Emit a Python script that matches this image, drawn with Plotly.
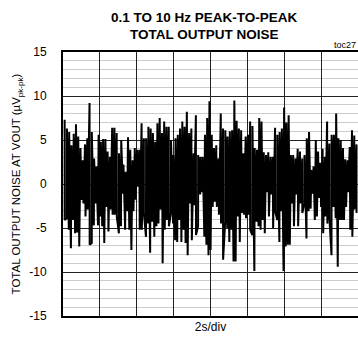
import numpy as np
import plotly.graph_objects as go

# ---------------------------------------------------------------------------
# Data (uV): upper spikes and lower spikes, in time order
# ---------------------------------------------------------------------------

NOISE_HI = [
    7.3, 6.3, 5.9, 4.4, 5.7, 6.8, 5.4, 4.1, 2.7, 4.5, 5.2, 9.2, 5.9, 2.9, 2.0, 5.6,
    4.8, 5.1, 5.1, 3.7, 3.1, 6.4, 6.4, 5.8, 3.5, 5.0, 2.2, 1.4, 5.3, 3.9, 2.7, 4.1,
    3.9, 3.9, 6.9, 5.2, 5.2, 6.5, 6.3, 5.8, 4.8, 6.9, 7.5, 5.8, 7.1, 6.5, 6.5, 5.0,
    3.3, 5.2, 5.6, 6.3, 7.1, 6.5, 8.2, 5.8, 6.3, 3.5, 7.8, 3.3, 3.1, 3.1, 5.6, 7.5,
    9.4, 5.6, 4.1, 4.4, 2.9, 8.0, 6.3, 6.1, 5.4, 6.0, 6.1, 9.5, 7.2, 6.3, 6.1, 3.5,
    5.4, 5.6, 7.1, 6.6, 4.1, 3.9, 7.5, 7.1, 3.6, 3.3, 3.6, 3.1, 3.1, 6.4, 5.6, 5.9,
    6.3, 8.7, 7.0, 7.8, 3.3, 3.3, 2.9, 4.0, 3.7, 2.9, 3.3, 5.2, 5.9, 1.6, 2.0, 5.0,
    3.7, 2.4, 4.0, 3.1, 7.1, 4.6, 5.6, 5.6, 8.0, 5.2, 5.0, 4.1, 2.8, 2.7, 4.2, 6.1,
    5.5, 4.5,
]

NOISE_LO = [
    -4.1, -3.9, -5.2, -7.3, -4.1, -5.6, -5.5, -7.1, -1.8, -2.2, -3.7, -2.9, -6.9, -6.7,
    -4.7, -2.2, -4.7, -3.7, -4.8, -6.7, -2.6, -5.4, -2.9, -3.5, -3.5, -3.7, -5.6, -4.8,
    -1.1, -5.2, -3.1, -5.2, -7.5, -3.1, -1.8, -0.3, -5.2, -5.2, -3.3, -6.0, -4.5, -7.8,
    -4.3, -6.0, -4.8, -4.5, -2.9, -9.0, -5.2, -4.1, -4.8, -3.3, -4.5, -6.4, -6.6, -4.1,
    -6.6, -5.2, -6.7, -8.1, -2.2, -6.4, -2.4, -5.8, -4.8, -1.2, -0.9, -6.0, -6.9, -8.1,
    -7.5, -2.6, -2.0, -2.6, -3.5, -4.5, -8.6, -4.3, -5.0, -6.6, -5.2, -8.8, -8.8, -3.7,
    -6.6, -3.3, -3.5, -3.9, -3.5, -5.2, -5.8, -9.9, -4.3, -4.8, -5.2, -4.1, -5.6, -0.9,
    -3.7, -1.2, -5.0, -3.1, -4.1, -6.6, -3.1, -9.9, -7.1, -6.9, -6.9, -2.2, -4.8, -1.2,
    -4.8, -2.2, -3.3, -2.2, -6.2, -3.1, -2.8, -1.1, -4.1, -3.7, -1.6, -2.6, -5.6, -3.7,
    -4.5, -3.9, -8.1, -2.6, -3.9, -9.4, -4.1, -4.1, -4.1, -2.6, -0.9, -5.2, -6.0, -2.9,
    -3.3,
]

T_START = 0.09   # s, first sample
T_END = 15.87    # s, last sample visible
Y_TICKS = [-15, -10, -5, 0, 5, 10, 15]

FONT = "Liberation Sans Narrow, Arial Narrow, Liberation Sans, Arial, sans-serif"

# merge the two spike lists into one time-ordered trace
t_hi = np.linspace(T_START, T_END, len(NOISE_HI))
t_lo = np.linspace(T_START, T_END, len(NOISE_LO))
t_all = np.concatenate([t_hi, t_lo])
v_all = np.concatenate([NOISE_HI, NOISE_LO])
order = np.argsort(t_all, kind="stable")

fig = go.Figure(go.Scatter(
    x=t_all[order],
    y=v_all[order],
    mode="lines",
    line=dict(color="black", width=2),
    hoverinfo="skip",
))

fig.update_layout(
    width=358,
    height=343,
    margin=dict(l=63, r=0, t=52, b=27),
    paper_bgcolor="white",
    plot_bgcolor="white",
    showlegend=False,
    font=dict(family=FONT, color="black", size=12),
    xaxis=dict(
        range=[0, 15.95],
        dtick=2,
        showticklabels=False,
        ticks="",
        showgrid=True,
        gridcolor="#222",
        gridwidth=1.3,
        zeroline=False,
        showline=True,
        linecolor="black",
        linewidth=2,
        mirror=True,
        automargin=False,
        title=dict(text="2s/div", font=dict(family=FONT, size=12), standoff=6),
    ),
    yaxis=dict(
        range=[-15, 15],
        tickvals=Y_TICKS,
        ticktext=[str(v) for v in Y_TICKS],
        ticks="",
        ticklabelstandoff=12,
        tickfont=dict(family=FONT, size=12),
        showgrid=True,
        gridcolor="#222",
        gridwidth=1.3,
        minor=dict(dtick=1, showgrid=True, gridcolor="#cccccc", gridwidth=1.2),
        zeroline=False,
        showline=True,
        linecolor="black",
        linewidth=2,
        mirror=True,
        automargin=False,
        title=dict(
            text="TOTAL OUTPUT NOISE AT VOUT (µV<sub>pk-pk</sub>)",
            font=dict(family=FONT, size=11.5),
            standoff=6,
        ),
    ),
)

# two-line bold title, placed as annotations so both lines stay inside the page
for line_text, y_px in [("0.1 TO 10 Hz PEAK-TO-PEAK", 17), ("TOTAL OUTPUT NOISE", 34)]:
    fig.add_annotation(
        text=f"<b>{line_text}</b>",
        xref="paper", yref="paper",
        x=0.478, y=1 + (52 - y_px) / 264,
        xanchor="center", yanchor="middle",
        showarrow=False,
        font=dict(family=FONT, size=13.5, color="black"),
    )

fig.add_annotation(
    text="toc27",
    xref="paper", yref="paper",
    x=1.0, y=1.0, xanchor="right", yanchor="bottom",
    showarrow=False,
    font=dict(family=FONT, size=9, color="black"),
)

fig.write_html(
    "out.html",
    config={"displayModeBar": False},
    post_script="document.body.style.margin = '0';",
)
